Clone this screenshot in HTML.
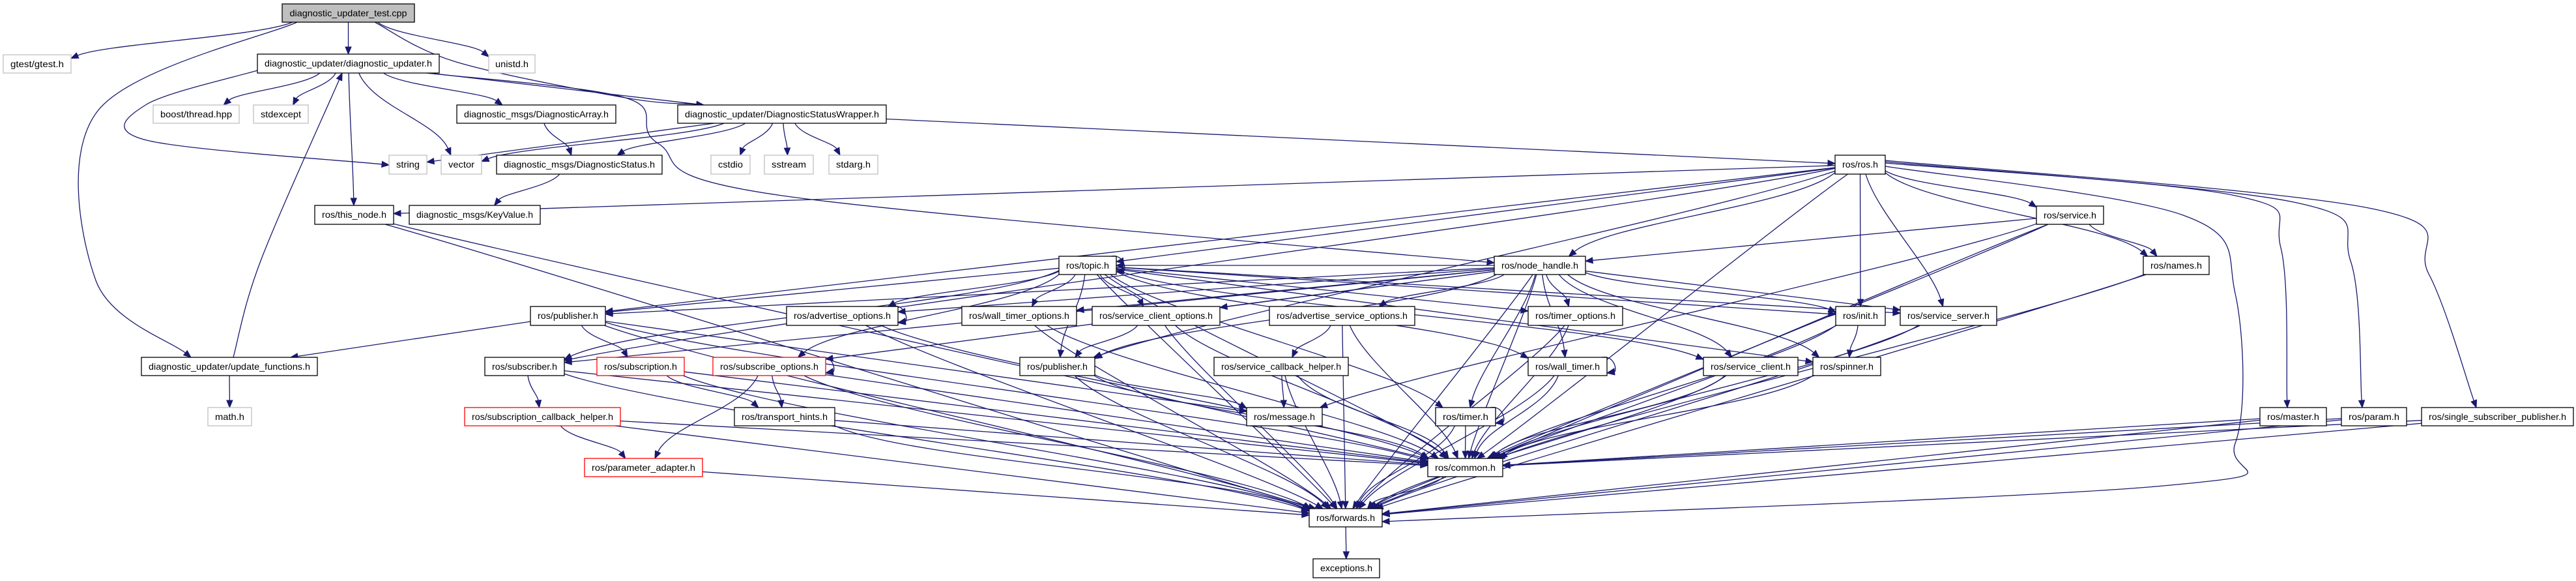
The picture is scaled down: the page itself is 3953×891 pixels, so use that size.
<!DOCTYPE html>
<html><head><meta charset="utf-8">
<style>
html,body{margin:0;padding:0;background:#fff;}
svg{display:block;}
text{font-family:"Liberation Sans",sans-serif;font-size:14px;fill:#000;}
</style></head>
<body>
<svg id="g" width="3953" height="891" viewBox="0 0 3953 891" xmlns="http://www.w3.org/2000/svg">
<rect x="0" y="0" width="3953" height="891" fill="#fff"/>
<g id="edges"></g>
<g id="nodes" text-anchor="middle">
<rect x="433" y="6" width="203" height="28" fill="#bfbfbf" stroke="#000" stroke-width="1.3"/><text x="534.5" y="25" textLength="180" lengthAdjust="spacingAndGlyphs">diagnostic_updater_test.cpp</text>
<rect x="5" y="84" width="104" height="28" fill="#fff" stroke="#bfbfbf" stroke-width="1.3"/><text x="57" y="103" textLength="82" lengthAdjust="spacingAndGlyphs">gtest/gtest.h</text>
<rect x="395" y="83" width="279" height="29" fill="#fff" stroke="#000" stroke-width="1.3"/><text x="534.5" y="102" textLength="257" lengthAdjust="spacingAndGlyphs">diagnostic_updater/diagnostic_updater.h</text>
<rect x="750" y="84" width="71" height="28" fill="#fff" stroke="#bfbfbf" stroke-width="1.3"/><text x="785.5" y="103" textLength="51" lengthAdjust="spacingAndGlyphs">unistd.h</text>
<rect x="235" y="161" width="132" height="28" fill="#fff" stroke="#bfbfbf" stroke-width="1.3"/><text x="301" y="180" textLength="110" lengthAdjust="spacingAndGlyphs">boost/thread.hpp</text>
<rect x="389" y="161" width="84" height="28" fill="#fff" stroke="#bfbfbf" stroke-width="1.3"/><text x="431" y="180" textLength="62" lengthAdjust="spacingAndGlyphs">stdexcept</text>
<rect x="701" y="161" width="244" height="28" fill="#fff" stroke="#000" stroke-width="1.3"/><text x="823" y="180" textLength="222" lengthAdjust="spacingAndGlyphs">diagnostic_msgs/DiagnosticArray.h</text>
<rect x="1040" y="161" width="320" height="28" fill="#fff" stroke="#000" stroke-width="1.3"/><text x="1200" y="180" textLength="298" lengthAdjust="spacingAndGlyphs">diagnostic_updater/DiagnosticStatusWrapper.h</text>
<rect x="597" y="238" width="58" height="29" fill="#fff" stroke="#bfbfbf" stroke-width="1.3"/><text x="626" y="257" textLength="36" lengthAdjust="spacingAndGlyphs">string</text>
<rect x="677" y="238" width="62" height="29" fill="#fff" stroke="#bfbfbf" stroke-width="1.3"/><text x="708" y="257" textLength="40" lengthAdjust="spacingAndGlyphs">vector</text>
<rect x="762" y="238" width="254" height="29" fill="#fff" stroke="#000" stroke-width="1.3"/><text x="889" y="257" textLength="232" lengthAdjust="spacingAndGlyphs">diagnostic_msgs/DiagnosticStatus.h</text>
<rect x="1091" y="238" width="60" height="29" fill="#fff" stroke="#bfbfbf" stroke-width="1.3"/><text x="1121" y="257" textLength="38" lengthAdjust="spacingAndGlyphs">cstdio</text>
<rect x="1173" y="238" width="75" height="29" fill="#fff" stroke="#bfbfbf" stroke-width="1.3"/><text x="1210.5" y="257" textLength="53" lengthAdjust="spacingAndGlyphs">sstream</text>
<rect x="1272" y="238" width="75" height="29" fill="#fff" stroke="#bfbfbf" stroke-width="1.3"/><text x="1309.5" y="257" textLength="53" lengthAdjust="spacingAndGlyphs">stdarg.h</text>
<rect x="2816" y="238" width="77" height="29" fill="#fff" stroke="#000" stroke-width="1.3"/><text x="2854.5" y="257" textLength="55" lengthAdjust="spacingAndGlyphs">ros/ros.h</text>
<rect x="483" y="315" width="121" height="29" fill="#fff" stroke="#000" stroke-width="1.3"/><text x="543.5" y="334" textLength="99" lengthAdjust="spacingAndGlyphs">ros/this_node.h</text>
<rect x="628" y="315" width="201" height="29" fill="#fff" stroke="#000" stroke-width="1.3"/><text x="728.5" y="334" textLength="179" lengthAdjust="spacingAndGlyphs">diagnostic_msgs/KeyValue.h</text>
<rect x="3125" y="316" width="103" height="28" fill="#fff" stroke="#000" stroke-width="1.3"/><text x="3176.5" y="335" textLength="81" lengthAdjust="spacingAndGlyphs">ros/service.h</text>
<rect x="1625" y="393" width="88" height="28" fill="#fff" stroke="#000" stroke-width="1.3"/><text x="1669" y="412" textLength="66" lengthAdjust="spacingAndGlyphs">ros/topic.h</text>
<rect x="2293" y="393" width="140" height="28" fill="#fff" stroke="#000" stroke-width="1.3"/><text x="2363" y="412" textLength="118" lengthAdjust="spacingAndGlyphs">ros/node_handle.h</text>
<rect x="3289" y="393" width="101" height="28" fill="#fff" stroke="#000" stroke-width="1.3"/><text x="3339.5" y="412" textLength="79" lengthAdjust="spacingAndGlyphs">ros/names.h</text>
<rect x="814" y="470" width="115" height="29" fill="#fff" stroke="#000" stroke-width="1.3"/><text x="871.5" y="489" textLength="93" lengthAdjust="spacingAndGlyphs">ros/publisher.h</text>
<rect x="1207" y="470" width="171" height="29" fill="#fff" stroke="#000" stroke-width="1.3"/><text x="1292.5" y="489" textLength="149" lengthAdjust="spacingAndGlyphs">ros/advertise_options.h</text>
<rect x="1476" y="470" width="176" height="29" fill="#fff" stroke="#000" stroke-width="1.3"/><text x="1564" y="489" textLength="154" lengthAdjust="spacingAndGlyphs">ros/wall_timer_options.h</text>
<rect x="1676" y="470" width="196" height="29" fill="#fff" stroke="#000" stroke-width="1.3"/><text x="1774" y="489" textLength="174" lengthAdjust="spacingAndGlyphs">ros/service_client_options.h</text>
<rect x="1948" y="470" width="223" height="29" fill="#fff" stroke="#000" stroke-width="1.3"/><text x="2059.5" y="489" textLength="201" lengthAdjust="spacingAndGlyphs">ros/advertise_service_options.h</text>
<rect x="2345" y="470" width="145" height="29" fill="#fff" stroke="#000" stroke-width="1.3"/><text x="2417.5" y="489" textLength="123" lengthAdjust="spacingAndGlyphs">ros/timer_options.h</text>
<rect x="2817" y="470" width="76" height="29" fill="#fff" stroke="#000" stroke-width="1.3"/><text x="2855" y="489" textLength="54" lengthAdjust="spacingAndGlyphs">ros/init.h</text>
<rect x="2916" y="470" width="148" height="29" fill="#fff" stroke="#000" stroke-width="1.3"/><text x="2990" y="489" textLength="126" lengthAdjust="spacingAndGlyphs">ros/service_server.h</text>
<rect x="217" y="548" width="270" height="28" fill="#fff" stroke="#000" stroke-width="1.3"/><text x="352" y="567" textLength="248" lengthAdjust="spacingAndGlyphs">diagnostic_updater/update_functions.h</text>
<rect x="744" y="548" width="122" height="28" fill="#fff" stroke="#000" stroke-width="1.3"/><text x="805" y="567" textLength="100" lengthAdjust="spacingAndGlyphs">ros/subscriber.h</text>
<rect x="916" y="548" width="134" height="28" fill="#fff" stroke="#ff0000" stroke-width="1.3"/><text x="983" y="567" textLength="112" lengthAdjust="spacingAndGlyphs">ros/subscription.h</text>
<rect x="1094" y="548" width="173" height="28" fill="#fff" stroke="#ff0000" stroke-width="1.3"/><text x="1180.5" y="567" textLength="151" lengthAdjust="spacingAndGlyphs">ros/subscribe_options.h</text>
<rect x="1565" y="548" width="115" height="28" fill="#fff" stroke="#000" stroke-width="1.3"/><text x="1622.5" y="567" textLength="93" lengthAdjust="spacingAndGlyphs">ros/publisher.h</text>
<rect x="1863" y="548" width="206" height="28" fill="#fff" stroke="#000" stroke-width="1.3"/><text x="1966" y="567" textLength="184" lengthAdjust="spacingAndGlyphs">ros/service_callback_helper.h</text>
<rect x="2345" y="548" width="121" height="28" fill="#fff" stroke="#000" stroke-width="1.3"/><text x="2405.5" y="567" textLength="99" lengthAdjust="spacingAndGlyphs">ros/wall_timer.h</text>
<rect x="2614" y="548" width="145" height="28" fill="#fff" stroke="#000" stroke-width="1.3"/><text x="2686.5" y="567" textLength="123" lengthAdjust="spacingAndGlyphs">ros/service_client.h</text>
<rect x="2782" y="548" width="104" height="28" fill="#fff" stroke="#000" stroke-width="1.3"/><text x="2834" y="567" textLength="82" lengthAdjust="spacingAndGlyphs">ros/spinner.h</text>
<rect x="319" y="625" width="67" height="28" fill="#fff" stroke="#bfbfbf" stroke-width="1.3"/><text x="352.5" y="644" textLength="45" lengthAdjust="spacingAndGlyphs">math.h</text>
<rect x="713" y="625" width="239" height="28" fill="#fff" stroke="#ff0000" stroke-width="1.3"/><text x="832.5" y="644" textLength="217" lengthAdjust="spacingAndGlyphs">ros/subscription_callback_helper.h</text>
<rect x="1127" y="625" width="154" height="28" fill="#fff" stroke="#000" stroke-width="1.3"/><text x="1204" y="644" textLength="132" lengthAdjust="spacingAndGlyphs">ros/transport_hints.h</text>
<rect x="1913" y="625" width="116" height="28" fill="#fff" stroke="#000" stroke-width="1.3"/><text x="1971" y="644" textLength="94" lengthAdjust="spacingAndGlyphs">ros/message.h</text>
<rect x="2203" y="625" width="92" height="28" fill="#fff" stroke="#000" stroke-width="1.3"/><text x="2249" y="644" textLength="70" lengthAdjust="spacingAndGlyphs">ros/timer.h</text>
<rect x="3468" y="625" width="102" height="28" fill="#fff" stroke="#000" stroke-width="1.3"/><text x="3519" y="644" textLength="80" lengthAdjust="spacingAndGlyphs">ros/master.h</text>
<rect x="3593" y="625" width="100" height="28" fill="#fff" stroke="#000" stroke-width="1.3"/><text x="3643" y="644" textLength="78" lengthAdjust="spacingAndGlyphs">ros/param.h</text>
<rect x="3716" y="625" width="233" height="28" fill="#fff" stroke="#000" stroke-width="1.3"/><text x="3832.5" y="644" textLength="211" lengthAdjust="spacingAndGlyphs">ros/single_subscriber_publisher.h</text>
<rect x="897" y="703" width="181" height="28" fill="#fff" stroke="#ff0000" stroke-width="1.3"/><text x="987.5" y="722" textLength="159" lengthAdjust="spacingAndGlyphs">ros/parameter_adapter.h</text>
<rect x="2191" y="703" width="115" height="28" fill="#fff" stroke="#000" stroke-width="1.3"/><text x="2248.5" y="722" textLength="93" lengthAdjust="spacingAndGlyphs">ros/common.h</text>
<rect x="2009" y="780" width="112" height="28" fill="#fff" stroke="#000" stroke-width="1.3"/><text x="2065" y="799" textLength="90" lengthAdjust="spacingAndGlyphs">ros/forwards.h</text>
<rect x="2015" y="857" width="102" height="29" fill="#fff" stroke="#000" stroke-width="1.3"/><text x="2066" y="876" textLength="80" lengthAdjust="spacingAndGlyphs">exceptions.h</text>
</g>
</svg>
<script>
var N={
test:[433,636,6,34],gtest:[5,109,84,112],du:[395,674,83,112],unistd:[750,821,84,112],
boost:[235,367,161,189],stdexcept:[389,473,161,189],darr:[701,945,161,189],dsw:[1040,1360,161,189],
string:[597,655,238,267],vector:[677,739,238,267],dstat:[762,1016,238,267],cstdio:[1091,1151,238,267],
sstream:[1173,1248,238,267],stdarg:[1272,1347,238,267],ros:[2816,2893,238,267],
thisnode:[483,604,315,344],keyvalue:[628,829,315,344],service:[3125,3228,316,344],
topic:[1625,1713,393,421],nh:[2293,2433,393,421],names:[3289,3390,393,421],
pubL:[814,929,470,499],advopt:[1207,1378,470,499],wto:[1476,1652,470,499],sco:[1676,1872,470,499],
aso:[1948,2171,470,499],to:[2345,2490,470,499],init:[2817,2893,470,499],ss:[2916,3064,470,499],
upd:[217,487,548,576],sub:[744,866,548,576],subn:[916,1050,548,576],subopt:[1094,1267,548,576],
pubC:[1565,1680,548,576],sch:[1863,2069,548,576],wt:[2345,2466,548,576],sc:[2614,2759,548,576],
spin:[2782,2886,548,576],math:[319,386,625,653],scbh:[713,952,625,653],th:[1127,1281,625,653],
msg:[1913,2029,625,653],timer:[2203,2295,625,653],master:[3468,3570,625,653],param:[3593,3693,625,653],
ssp:[3716,3949,625,653],pa:[897,1078,703,731],common:[2191,2306,703,731],fwd:[2009,2121,780,808],
exc:[2015,2117,857,886]};
var E={
test:"gtest du unistd dsw upd",
du:"boost stdexcept darr string vector dsw thisnode nh",
darr:"dstat",dstat:"keyvalue",
dsw:"string vector dstat cstdio sstream stdarg ros",
upd:"du math",
ros:"thisnode topic nh pubL sub service names init ss master param ssp common fwd pubC",
thisnode:"common fwd",
topic:"topic pubL sub advopt subopt wto sco pubC to timer wt init ss sc spin common fwd",
nh:"pubL sub advopt subopt wto sco aso to init ss sc timer wt spin pubC common fwd topic",
pubL:"upd subn common fwd msg",
sub:"scbh common fwd",subn:"th common fwd",scbh:"pa common fwd",
subopt:"subopt pa th common fwd",advopt:"advopt common fwd",wto:"common fwd",
sco:"pubC fwd common",pubC:"msg common fwd",aso:"sch common fwd",sch:"msg common fwd",
th:"common fwd",pa:"fwd",to:"common fwd",wt:"wt common fwd",timer:"timer common fwd",
sc:"common fwd",spin:"common",init:"spin common fwd",ss:"common fwd",
service:"nh names msg common fwd",names:"common fwd",
master:"common fwd",param:"common fwd",ssp:"common fwd",common:"fwd",fwd:"exc"};
var R={
"test>upd":[[456,34],[150,170],[147,430],[293,548]],
"du>string":[[395,108],[225,160],[225,215],[597,253]],
"du>nh":[[655,112],[960,150],[1010,220],[1200,300],[2293,403]],
"test>dsw":[[575,34],[700,95],[960,150],[1080,161]],
"ros>master":[[2893,250],[3430,300],[3500,380],[3510,625]],
"ros>param":[[2893,248],[3520,310],[3607,400],[3625,625]],
"ros>ssp":[[2893,246],[3640,320],[3727,420],[3800,625]],
"ros>fwd":[[2893,255],[3350,330],[3430,450],[3430,680],[3320,745],[2121,800]],
"upd>du":[[358,548],[400,400],[525,112]]
};
var C="#191970",out="";
function c(b){return [(b[0]+b[1])/2,(b[2]+b[3])/2];}
function border(b,px,py){
 var cx=(b[0]+b[1])/2,cy=(b[2]+b[3])/2,dx=px-cx,dy=py-cy;
 var hw=(b[1]-b[0])/2,hh=(b[3]-b[2])/2;
 var t=Math.min(dx?hw/Math.abs(dx):1e9,dy?hh/Math.abs(dy):1e9);
 return [cx+dx*t,cy+dy*t];}
function smooth(P){
 var d="M"+P[0][0].toFixed(1)+","+P[0][1].toFixed(1);
 for(var i=0;i<P.length-1;i++){
  var p0=P[i-1]||P[i],p1=P[i],p2=P[i+1],p3=P[i+2]||p2;
  var c1=[p1[0]+(p2[0]-p0[0])/6,p1[1]+(p2[1]-p0[1])/6],c2=[p2[0]-(p3[0]-p1[0])/6,p2[1]-(p3[1]-p1[1])/6];
  d+=" C"+c1[0].toFixed(1)+","+c1[1].toFixed(1)+" "+c2[0].toFixed(1)+","+c2[1].toFixed(1)+" "+p2[0].toFixed(1)+","+p2[1].toFixed(1);}
 return d;}
function arrow(q,prev){
 var dx=q[0]-prev[0],dy=q[1]-prev[1],L=Math.sqrt(dx*dx+dy*dy)||1,ux=dx/L,uy=dy/L;
 var bx=q[0]-ux*11,by=q[1]-uy*11,nx=-uy,ny=ux;
 out+='<polygon points="'+q[0].toFixed(1)+','+q[1].toFixed(1)+' '+(bx+nx*4.5).toFixed(1)+','+(by+ny*4.5).toFixed(1)+' '+(bx-nx*4.5).toFixed(1)+','+(by-ny*4.5).toFixed(1)+'" fill="'+C+'" stroke="'+C+'"/>';
 return [bx,by];}
for(var s in E){E[s].split(" ").forEach(function(t){
 var a=N[s],b=N[t];
 if(s===t){var x=a[1],y2=a[3]-6;
  out+='<path d="M'+(x-8)+','+a[2]+' C'+(x+14)+','+(a[2]-4)+' '+(x+16)+','+(y2+4)+' '+(x+10)+','+(y2)+'" fill="none" stroke="'+C+'" stroke-width="1.3"/>';
  out+='<polygon points="'+x+','+(y2+2)+' '+(x+11)+','+(y2-5)+' '+(x+12)+','+(y2+5)+'" fill="'+C+'" stroke="'+C+'"/>';
  return;}
 var key=s+">"+t;
 if(R[key]){var P=R[key].slice(),q=P[P.length-1];
  var base=arrow(q,P[P.length-2]);P[P.length-1]=base;
  out+='<path d="'+smooth(P)+'" fill="none" stroke="'+C+'" stroke-width="1.3"/>';return;}
 var ca=c(a),cb=c(b);
 var p=border(a,cb[0],cb[1]),q=border(b,ca[0],ca[1]);
 var dx=q[0]-p[0],dy=q[1]-p[1];
 var k=Math.min(Math.abs(dy)*0.4,60);
 var c1=[p[0]+dx*0.15,p[1]+(dy>=0?k:-k)],c2=[q[0]-dx*0.15,q[1]-(dy>=0?k:-k)];
 if(Math.abs(dy)<Math.abs(dx)*0.15){c1=[p[0]+dx*0.33,p[1]+dy*0.33];c2=[p[0]+dx*0.66,p[1]+dy*0.66];}
 var base=arrow(q,c2);
 out+='<path d="M'+p[0].toFixed(1)+','+p[1].toFixed(1)+' C'+c1[0].toFixed(1)+','+c1[1].toFixed(1)+' '+c2[0].toFixed(1)+','+c2[1].toFixed(1)+' '+base[0].toFixed(1)+','+base[1].toFixed(1)+'" fill="none" stroke="'+C+'" stroke-width="1.3"/>';
});}
document.getElementById("edges").innerHTML=out;
</script>
</body></html>
